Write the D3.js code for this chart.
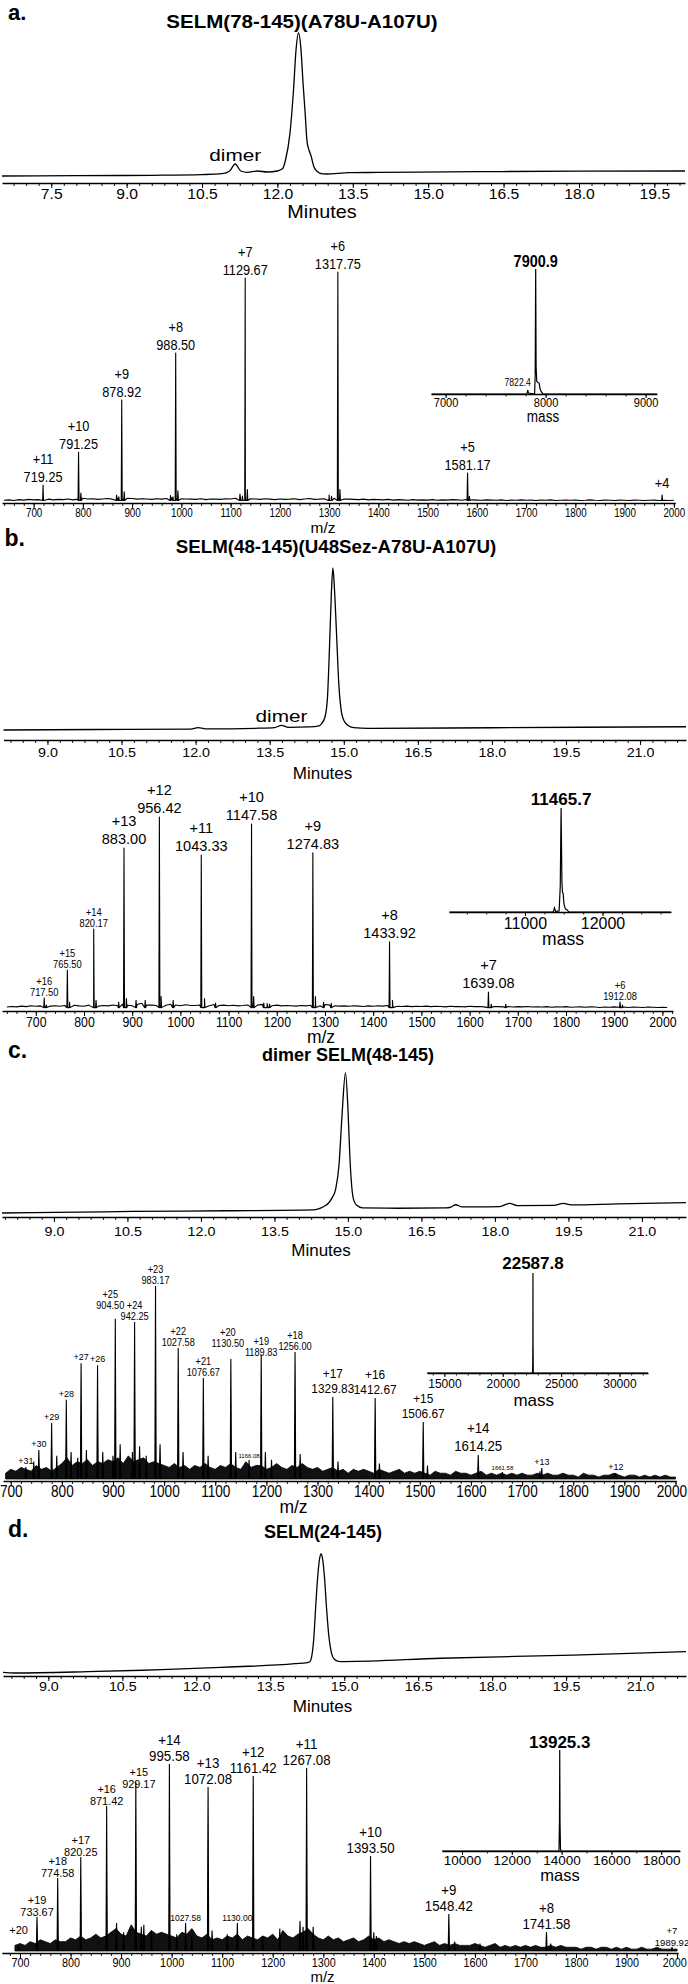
<!DOCTYPE html>
<html><head><meta charset="utf-8">
<script src="https://cdn.jsdelivr.net/npm/d3@7/dist/d3.min.js"></script>
<style>html,body{margin:0;padding:0;background:#fff}svg{display:block}</style>
</head><body>
<svg id="fig" width="688" height="1984" viewBox="0 0 688 1984"></svg>
<script>
// ======================= DATA =======================
const panelLetters = ["a.", "b.", "c.", "d."];
const titles = ["SELM(78-145)(A78U-A107U)", "SELM(48-145)(U48Sez-A78U-A107U)", "dimer SELM(48-145)", "SELM(24-145)"];

const chromTicksA = [7.5, 9.0, 10.5, 12.0, 13.5, 15.0, 16.5, 18.0, 19.5];
const chromTicksBCD = [9.0, 10.5, 12.0, 13.5, 15.0, 16.5, 18.0, 19.5, 21.0];
const msTicks = [700, 800, 900, 1000, 1100, 1200, 1300, 1400, 1500, 1600, 1700, 1800, 1900, 2000];

// chromatograms: time (min) and absorbance (% of main peak, above left baseline)
const chromA_time = [6.52, 8.0, 9.5, 10.5, 10.9, 11.05, 11.16, 11.27, 11.4, 11.6, 11.8, 12.0, 12.1, 12.16, 12.25, 12.32, 12.37, 12.42, 12.47, 12.51, 12.55, 12.59, 12.63, 12.67, 12.72, 12.78, 12.9, 13.0, 13.2, 13.4, 14.0, 16.0, 18.0, 20.11];
const chromA_abs  = [0, 0.2, 0.5, 1.0, 1.6, 3.5, 8.4, 3.5, 2.5, 3.5, 2.8, 3.5, 5, 11, 30, 60, 88, 100, 88, 65, 45, 24, 18, 14, 7, 3.5, 1.5, 1.4, 1.8, 2.3, 2.5, 3.0, 3.4, 3.5];
const chromB_time = [8.11, 10.0, 11.9, 12.05, 12.2, 13.3, 13.6, 13.74, 13.88, 14.3, 14.5, 14.55, 14.62, 14.67, 14.71, 14.75, 14.78, 14.81, 14.86, 14.9, 14.94, 15.0, 15.08, 15.2, 15.5, 18.0, 21.93];
const chromB_abs  = [0, 0.3, 0.6, 1.5, 0.7, 1.1, 1.5, 2.8, 1.6, 1.9, 2.6, 4, 8, 20, 50, 85, 100, 88, 55, 28, 14, 6, 3, 1.5, 1.0, 1.4, 2.0];
const chromC_time = [7.94, 9.5, 10.6, 12.5, 14.3, 14.4, 14.5, 14.6, 14.68, 14.75, 14.82, 14.88, 14.95, 15.0, 15.04, 15.08, 15.12, 15.18, 15.3, 16.0, 17.0, 17.1, 17.2, 17.32, 17.6, 18.1, 18.3, 18.45, 19.2, 19.4, 19.55, 20.5, 21.9];
const chromC_abs  = [0, 0.6, 1.1, 1.6, 2.2, 3, 4.5, 7, 11, 17, 35, 70, 100, 75, 40, 18, 9, 5.5, 3.6, 3.4, 3.6, 4.2, 5.9, 4.4, 4.4, 4.6, 6.9, 5.3, 5.5, 6.9, 5.8, 6.5, 7.4];
const chromD_time = [8.08, 8.3, 9.8, 12.5, 14.0, 14.25, 14.3, 14.34, 14.38, 14.42, 14.46, 14.5, 14.53, 14.56, 14.6, 14.64, 14.69, 14.74, 14.8, 14.88, 15.0, 16.96, 19.64, 21.93];
const chromD_abs  = [0.5, 0, 1.1, 4.8, 7.8, 8.8, 9.5, 14, 28, 55, 80, 96, 100, 96, 80, 55, 30, 17, 11.5, 9.8, 9.6, 12.4, 15.1, 17.9];

// ESI spectra: labelled peaks (m/z, relative intensity %, charge, label)
const msA_mz     = [719.25, 791.25, 878.92, 988.50, 1129.67, 1317.75, 1581.17, 1976.2];
const msA_int    = [7, 21.4, 44.1, 64.6, 97.4, 100, 12.2, 2.6];
const msA_charge = [11, 10, 9, 8, 7, 6, 5, 4];
const msA_text   = ["719.25", "791.25", "878.92", "988.50", "1129.67", "1317.75", "1581.17", ""];
const msA_minorMz  = [796, 868.5, 873, 884, 978, 983, 993, 1119, 1124, 1134, 1300, 1305, 1322, 1585];
const msA_minorInt = [3.5, 2.6, 1.8, 4.0, 2.4, 1.8, 4.5, 3.0, 2.2, 5.0, 2.6, 2.0, 5.0, 2.0];
const msA_noise = [0.3,0.5,0.2,0.6,0.4,0.7,0.5, 0.6,0.4,0.8,0.5,0.7,0.6,0.9,0.5,0.8,
  1.2,0.9,1.0,0.7,0.9,1.1,0.8,1.3,1.0,1.2, 1.1,0.8,1.0,0.9,0.7,1.0,0.8,1.1,1.4,1.2,
  1.0,0.9,0.8,0.7,1.0,0.6,0.9,0.8,0.7,1.0, 0.9,1.2,1.3,1.5,1.0,0.9,0.7,1.0,0.8,0.6,
  0.9,0.7,0.8,1.0,0.6,0.9,1.1,0.7,0.8,1.0, 1.4,1.2,1.0,0.9,0.8,0.7,0.6,0.8,0.5,0.7,
  0.6,0.5,0.7,0.4,0.6,0.5,0.3,0.6,0.4,0.5, 0.4,0.6,0.3,0.5,0.4,0.6,0.5,0.3,0.7,0.5,
  0.4,0.3,0.5,0.4,0.3,0.5,0.2,0.4,0.3,0.5, 0.3,0.4,0.2,0.4,0.3,0.5,0.2,0.3,0.4,0.3,
  0.4,0.2,0.3,0.5,0.3,0.2,0.4,0.3,0.2,0.4, 0.3,0.2,0.4,0.3,0.2,0.3,0.4,0.2,0.3,0.2,0.3];
const msA_noiseStart = 640, msA_noiseStep = 10;

const msB_mz     = [717.50, 765.50, 820.17, 883.00, 956.42, 1043.33, 1147.58, 1274.83, 1433.92, 1639.08, 1912.08];
const msB_int    = [5.2, 19.9, 41.4, 83.8, 100, 80.1, 96.3, 81.2, 34.6, 8.4, 3.1];
const msB_charge = [16, 15, 14, 13, 12, 11, 10, 9, 8, 7, 6];
const msB_text   = ["717.50", "765.50", "820.17", "883.00", "956.42", "1043.33", "1147.58", "1274.83", "1433.92", "1639.08", "1912.08"];
const msB_minorMz  = [722, 770, 825, 872, 888, 908, 927, 960, 985, 1050, 1073, 1152, 1173, 1180, 1185, 1280, 1297, 1313, 1440, 1645, 1675, 1917];
const msB_minorInt = [1.5, 3, 4, 3, 5, 4, 4, 6, 4, 5, 2.6, 6, 2.6, 2.5, 2.0, 6, 3, 2.5, 4, 2, 2, 1.5];
const msB_noise = [0.5,0.8,0.6,1.0,0.7,1.2,0.9,1.1,0.8,1.0, 1.2,0.9,1.3,1.0,1.4,1.1,0.9,1.5,1.2,1.0,
  1.3,1.1,1.6,1.2,2.0,1.4,1.2,1.8,2.5,1.6, 1.5,1.3,1.8,1.4,2.0,1.6,1.2,1.7,1.4,1.3,
  1.6,1.4,1.2,1.8,1.3,1.5,1.2,1.4,1.1,1.3, 1.6,1.8,1.5,1.9,1.4,1.2,1.5,1.1,1.3,1.2,
  1.0,1.3,1.1,1.4,1.6,1.2,1.8,1.5,1.2,1.0, 1.1,0.9,1.2,1.0,0.8,1.1,0.9,1.2,1.0,1.3,
  1.1,0.9,0.8,1.0,0.7,0.9,0.8,1.0,0.7,0.9, 0.8,0.6,0.9,0.7,0.8,0.6,0.9,0.7,0.8,0.6,
  1.0,0.8,0.7,0.6,0.8,0.5,0.7,0.6,0.8,0.5, 0.6,0.5,0.7,0.4,0.6,0.5,0.7,0.4,0.5,0.6,
  0.4,0.6,0.5,0.3,0.5,0.4,0.6,0.4,0.5,0.3, 0.5,0.4,0.3,0.5,0.4,0.3,0.4,0.3];
const msB_noiseStart = 640, msB_noiseStep = 10;

const msC_mz     = [729.6, 755.0, 780.0, 808.7, 837.6, 869.8, 904.50, 942.25, 983.17, 1027.58, 1076.67, 1130.50, 1166.08, 1189.83, 1256.00, 1329.83, 1412.67, 1506.67, 1614.25, 1661.58, 1738.5, 1883.3];
const msC_int    = [6.2, 15, 29, 41, 60, 59, 83, 81.3, 100, 67.9, 52.3, 62.2, 9.8, 64.2, 65.8, 42.5, 42, 29.5, 12.4, 3.6, 5.7, 3.1];
const msC_charge = [31, 30, 29, 28, 27, 26, 25, 24, 23, 22, 21, 20, 0, 19, 18, 17, 16, 15, 14, 0, 13, 12];
const msC_text   = ["", "", "", "", "", "", "904.50", "942.25", "983.17", "1027.58", "1076.67", "1130.50", "1166.08", "1189.83", "1256.00", "1329.83", "1412.67", "1506.67", "1614.25", "1661.58", "", ""];
const msC_minorMz  = [745, 790, 818, 831, 848, 880, 900, 914, 938, 952, 965, 992, 1037, 1086, 1140, 1198, 1210, 1266, 1340, 1421, 1515, 1735];
const msC_minorInt = [9, 12, 14, 11, 15, 14, 12, 18, 14, 17, 12, 18, 14, 12, 14, 14, 10, 13, 9, 8, 7, 4];
const msC_noise = [3,5,4,6,5,4,7,5,6,4, 6,8,11,7,9,8,10,7,9,8, 10,9,11,8,12,9,10,11,8,9,
  8,7,6,8,6,7,5,7,6,8, 6,5,7,6,8,6,5,9,6,7, 7,5,6,8,6,5,7,6,8,6, 5,6,4,5,6,4,5,3,5,4,
  5,4,3,5,4,3,4,5,3,4, 3,4,3,2,4,3,3,2,4,3, 3,2,3,4,2,3,2,3,2,3, 2,3,2,2,3,2,3,2,2,3,
  2,2,1,3,2,2,1,2,2,3, 2,1,2,2,1,2,1,2,1,2, 1,1];
const msC_noiseStart = 690, msC_noiseStep = 10;

const msD_mz     = [697.3, 733.67, 774.58, 820.25, 871.42, 929.17, 995.58, 1027.58, 1072.08, 1130.00, 1161.42, 1267.08, 1393.50, 1548.42, 1741.58, 1989.92];
const msD_int    = [3.2, 18.2, 39, 50.3, 77.5, 90.4, 100, 15, 87.7, 15, 93.6, 97.9, 50.8, 19.8, 10.2, 2.1];
const msD_charge = [20, 19, 18, 17, 16, 15, 14, 0, 13, 0, 12, 11, 10, 9, 8, 7];
const msD_text   = ["", "733.67", "774.58", "820.25", "871.42", "929.17", "995.58", "1027.58", "1072.08", "1130.00", "1161.42", "1267.08", "1393.50", "1548.42", "1741.58", "1989.92"];
const msD_minorMz  = [891, 905, 940, 945, 960, 1010, 1040, 1080, 1110, 1180, 1214, 1254, 1260, 1280, 1400, 1405, 1560, 1610, 1750];
const msD_minorInt = [15, 10, 13, 14, 11, 9, 8, 11, 9, 8, 12, 16, 13, 13, 10, 8, 5, 4, 4];
const msD_noise = [3,4,3,5,4,6,5,4,6,5, 5,7,6,8,6,7,9,7,8,10, 12,9,8,14,10,9,8,11,9,10,
  9,8,7,10,9,12,8,7,9,6, 7,6,8,7,9,6,8,7,6,8, 7,9,6,11,8,7,9,10,12,9, 7,6,8,6,7,5,6,7,5,6,
  8,6,7,5,6,5,4,5,4,5, 4,3,4,5,3,4,3,4,3,3, 3,4,3,2,3,4,2,3,2,3, 2,3,2,3,2,2,3,2,3,2,
  2,2,1,2,2,1,2,2,1,2, 1,2,1,1,2,1,1,2,1,1, 1,1];
const msD_noiseStart = 690, msD_noiseStep = 10;

// deconvoluted mass insets
const insetA_mass = [6860, 7810, 7817, 7822.4, 7828, 7890, 7896, 7900.9, 7905, 7912, 7925, 7935, 7945, 7958, 7975, 9110];
const insetA_int  = [0, 0, 1.5, 3.2, 0.8, 0, 15, 100, 22, 10, 9, 8.8, 4, 1.6, 0, 0];
const insetA_ticks = [7000, 8000, 9000];
const insetB_mass = [10025, 11365, 11380, 11395, 11440, 11455, 11465.7, 11476, 11483, 11492, 11502, 11520, 11545, 11565, 12880];
const insetB_int  = [0, 0, 4, 0.5, 1, 25, 100, 30, 19, 18, 8, 3, 2, 0, 0];
const insetB_ticks = [11000, 12000];
const insetC_mass = [13515, 22560, 22580, 22587.8, 22596, 22615, 32440];
const insetC_int  = [0, 0, 30, 100, 30, 0, 0];
const insetC_ticks = [15000, 20000, 25000, 30000];
const insetD_mass = [9200, 13895, 13915, 13925.3, 13936, 13955, 13975, 18750];
const insetD_int  = [0, 0, 30, 100, 30, 2, 0, 0];
const insetD_ticks = [10000, 12000, 14000, 16000, 18000];
const insetPeaks = [[7900.9, "7900.9"], [11465.7, "11465.7"], [22587.8, "22587.8"], [13925.3, "13925.3"]];
const insetA_minorLabel = [7822.4, "7822.4"];

// ======================= LAYOUT =======================
const FONT = '"Liberation Sans", Arial, Helvetica, sans-serif';
const LAYOUT = [
 { letter:{x:8, y:20, size:22}, title:{x:302, y:22, sx:1.14},
   chrom:{tDomain:[6.52,20.11], xRange:[2,685], zeroY:176, topY:33, axisY:183, labelY:194, size:14, sx:1.12,
          minutes:{x:322, y:212, size:18, sx:1.1}, dimer:{t:11.16, y:155}},
   ms:{mzDomain:[636,2003], xRange:[2.1,675.3], zeroY:501, topY:272, axisY:503, labelY:512.5, size:12, sx:0.82,
       mzl:{x:323, y:527, size:15.5, sx:1}, dense:false,
       cls:['A','A','A','A','A','A','A','A1'], nudge:{}},
   inset:{domain:[6854,9114], xRange:[431,657], zeroY:394, topY:269, labelY:403, size:13, sx:0.85, minor:200,
          mass:{x:543, y:416, size:16.5, sx:0.82}, peak:{size:17, sx:0.85, dy:-8}} },
 { letter:{x:4.5, y:546, size:23}, title:{x:336, y:547, sx:1.04},
   chrom:{tDomain:[8.11,21.93], xRange:[3.5,686], zeroY:730, topY:568, axisY:740, labelY:753, size:13, sx:1.1,
          minutes:{x:322.5, y:773, size:17, sx:1}, dimer:{t:13.74, y:716}},
   ms:{mzDomain:[630,2022], xRange:[2.05,673], zeroY:1008, topY:817, axisY:1011, labelY:1022, size:15, sx:0.82,
       mzl:{x:321, y:1037, size:17.5, sx:1}, dense:false,
       cls:['S','S','S','L','L','L','L','L','L','L','S'], nudge:{}},
   inset:{domain:[10019,12884], xRange:[449,671], zeroY:912, topY:808, labelY:923, size:16, sx:1, minor:250,
          mass:{x:563, y:939, size:17.5, sx:1}, peak:{size:17, sx:1, dy:-9}} },
 { letter:{x:8, y:1058, size:23}, title:{x:348, y:1055, sx:1.0},
   chrom:{tDomain:[7.94,21.9], xRange:[2,686], zeroY:1213, topY:1073, axisY:1217, labelY:1232, size:13, sx:1.1,
          minutes:{x:321, y:1250, size:17, sx:1}, dimer:null},
   ms:{mzDomain:[685,2001], xRange:[3.05,676], zeroY:1479, topY:1286, axisY:1481, labelY:1492, size:16, sx:0.85,
       mzl:{x:293.5, y:1507, size:17.5, sx:1}, dense:true,
       cls:['K','K','K','K','K','K','S','S','S','S','S','S','T','S','S','M','M','M','L','T','K','K'],
       nudge:{"904.5":[-5,-7], "1130.5":[-3,-10], "1189.83":[0,3]}},
   inset:{domain:[13509,32446], xRange:[427,648], zeroY:1373, topY:1273, labelY:1384, size:12, sx:1, minor:1000,
          mass:{x:533.7, y:1400, size:17, sx:1}, peak:{size:17, sx:1, dy:-10}} },
 { letter:{x:8, y:1537, size:23}, title:{x:323, y:1532, sx:1.0},
   chrom:{tDomain:[8.08,21.93], xRange:[3,686], zeroY:1673, topY:1554, axisY:1676, labelY:1687, size:13, sx:1.1,
          minutes:{x:322.5, y:1706, size:17, sx:1}, dimer:null},
   ms:{mzDomain:[664,2002], xRange:[1.8,678.1], zeroY:1951, topY:1764, axisY:1953, labelY:1962.5, size:13.5, sx:0.8,
       mzl:{x:322.5, y:1976, size:15, sx:1}, dense:true,
       cls:['K','S','S','S','S','S','L','T','L','T','L','L','L','L','L','X'],
       nudge:{"929.17":[3,7]}},
   inset:{domain:[9197,18755], xRange:[442,680], zeroY:1851, topY:1750, labelY:1860, size:13.5, sx:1, minor:1000,
          mass:{x:560, y:1875, size:16.5, sx:1}, peak:{size:17, sx:1, dy:-8}} }
];
// label styles: size, horizontal squeeze, offset of m/z line and of charge line from the peak top
const LABEL_STYLES = [
 { A:{size:15, sx:0.85, d1:-8, d2:-26}, A1:{size:15, sx:0.85, d1:-12} },
 { L:{size:15, sx:0.97, d1:-9, d2:-27}, S:{size:11, sx:0.85, d1:-6, d2:-17} },
 { K:{size:9, sx:1, d1:-6}, S:{size:10, sx:0.92, d1:-6, d2:-17}, T:{size:6, sx:1, d1:-4},
   M:{size:12.5, sx:0.95, d1:-8, d2:-23}, L:{size:14, sx:0.95, d1:-9, d2:-27} },
 { K:{size:11, sx:1, d1:-15}, S:{size:11.5, sx:0.95, d1:-5, d2:-17}, L:{size:14, sx:0.95, d1:-8, d2:-24},
   T:{size:8.5, sx:1, d1:-5}, X:{size:9.5, sx:1, d1:-5, d2:-17} }
];

// ======================= DRAWING =======================
const svg = d3.select('#fig');
svg.append('rect').attr('width',688).attr('height',1984).attr('fill','#fff');

function txt(g, x, y, s, o) {
  o = o || {};
  return g.append('text')
    .attr('transform', `translate(${x},${y}) scale(${o.sx || 1},1)`)
    .attr('text-anchor', o.anchor || 'middle')
    .attr('dominant-baseline', o.base || 'central')
    .attr('font-family', FONT)
    .attr('font-size', o.size || 12)
    .attr('font-weight', o.bold ? 'bold' : 'normal')
    .attr('fill', '#000')
    .text(s);
}

function styleAxis(g, size, sx, dy, sw) {
  g.attr('font-family', FONT).attr('font-size', size);
  g.select('.domain').attr('stroke', '#000').attr('stroke-width', sw || 1.3);
  g.selectAll('.tick line').attr('stroke', '#000').attr('stroke-width', 1);
  g.selectAll('.tick text').attr('y', null).attr('dy', null)
    .attr('dominant-baseline', 'central').attr('fill', '#000')
    .attr('transform', `translate(0,${dy}) scale(${sx},1)`)
    .each(function () {
      const r = this.getBoundingClientRect();
      if (r.right > 687) {
        d3.select(this).attr('transform', `translate(${687 - r.right},${dy}) scale(${sx},1)`);
      }
    });
}

function drawAxis(x, y0, majors, minors, majorLen, minorLen, fmt, size, sx, dy) {
  const gm = svg.append('g').attr('transform', `translate(0,${y0})`)
    .call(d3.axisBottom(x).tickValues(minors).tickSize(minorLen).tickSizeOuter(0).tickFormat(''));
  gm.select('.domain').remove();
  gm.selectAll('.tick line').attr('stroke', '#000').attr('stroke-width', 0.9);
  const g = svg.append('g').attr('transform', `translate(0,${y0})`)
    .call(d3.axisBottom(x).tickValues(majors).tickSize(majorLen).tickSizeOuter(0).tickFormat(fmt));
  styleAxis(g, size, sx, dy);
  return g;
}

function drawChrom(L, time, abs, ticks) {
  const x = d3.scaleLinear().domain(L.tDomain).range(L.xRange);
  const y = d3.scaleLinear().domain([0, 100]).range([L.zeroY, L.topY]);
  const line = d3.line().x((d, i) => x(time[i])).y((d, i) => y(abs[i])).curve(d3.curveMonotoneX);
  svg.append('path').datum(time).attr('d', line).attr('fill', 'none')
    .attr('stroke', '#000').attr('stroke-width', 1.3);
  const minors = d3.range(Math.ceil(L.tDomain[0] / 0.25) * 0.25, L.tDomain[1], 0.25);
  drawAxis(x, L.axisY, ticks, minors, 5, 3, d3.format('.1f'), L.size, L.sx, L.labelY - L.axisY);
  txt(svg, L.minutes.x, L.minutes.y, 'Minutes', {size: L.minutes.size, sx: L.minutes.sx});
  if (L.dimer) txt(svg, x(L.dimer.t), L.dimer.y, 'dimer', {size: 16, sx: 1.3});
}

function drawMS(L, ST, D) {
  const x = d3.scaleLinear().domain(L.mzDomain).range(L.xRange);
  const y = d3.scaleLinear().domain([0, 100]).range([L.zeroY, L.topY]);
  const noisePts = D.noise.map((v, i) => [D.noiseStart + i * D.noiseStep, v]);
  const peaks = D.mz.map((m, i) => [m, D.int[i]]).concat(D.minorMz.map((m, i) => [m, D.minorInt[i]]));
  const ln = d3.line().x(d => x(d[0])).y(d => y(d[1]));
  if (!L.dense) {
    const pts = noisePts.slice();
    peaks.forEach(p => { pts.push([p[0] - 1, 0.2], [p[0], p[1]], [p[0] + 1, 0.2]); });
    pts.sort((a, b) => a[0] - b[0]);
    svg.append('path').datum(pts).attr('d', ln).attr('fill', 'none')
      .attr('stroke', '#000').attr('stroke-width', 1.1).attr('stroke-linejoin', 'round');
  } else {
    const area = d3.area().x(d => x(d[0])).y0(y(0)).y1(d => y(d[1]));
    svg.append('path').datum(noisePts).attr('d', area).attr('fill', '#111')
      .attr('stroke', '#000').attr('stroke-width', 0.8).attr('stroke-linejoin', 'round');
    svg.append('g').selectAll('path').data(peaks).join('path')
      .attr('d', p => ln([[p[0] - 1.3, 0], [p[0], p[1]], [p[0] + 1.3, 0]]))
      .attr('fill', '#000').attr('stroke', '#000').attr('stroke-width', 1.1);
  }
  const minors = d3.range(Math.ceil(L.mzDomain[0] / 20) * 20, L.mzDomain[1], 20);
  drawAxis(x, L.axisY, msTicks, minors, 5, 3, d3.format('d'), L.size, L.sx, L.labelY - L.axisY);
  txt(svg, L.mzl.x, L.mzl.y, 'm/z', {size: L.mzl.size, sx: L.mzl.sx});
  // peak labels
  D.mz.forEach((m, i) => {
    const st = ST[L.cls[i]];
    const nd = L.nudge[String(m)] || [0, 0];
    const px = x(m) + nd[0], py = y(D.int[i]) + nd[1];
    const ch = D.charge[i] ? '+' + D.charge[i] : '';
    if (st.d2 !== undefined) {
      if (ch) txt(svg, px, py + st.d2, ch, {size: st.size, sx: st.sx});
      if (D.text[i]) txt(svg, px, py + st.d1, D.text[i], {size: st.size, sx: st.sx});
    } else {
      txt(svg, px, py + st.d1, D.text[i] || ch, {size: st.size, sx: st.sx});
    }
  });
}

function drawInset(L, mass, inten, ticks, peak, minorLabel) {
  const x = d3.scaleLinear().domain(L.domain).range(L.xRange);
  const y = d3.scaleLinear().domain([0, 100]).range([L.zeroY, L.topY]);
  const ln = d3.line().x((d, i) => x(mass[i])).y((d, i) => y(inten[i]));
  const minors = d3.range(Math.ceil(L.domain[0] / L.minor) * L.minor, L.domain[1], L.minor);
  drawAxis(x, L.zeroY, ticks, minors, 4, 2.5, d3.format('d'), L.size, L.sx, L.labelY - L.zeroY);
  svg.append('path').datum(mass).attr('d', ln).attr('fill', 'none')
    .attr('stroke', '#000').attr('stroke-width', 1.2);
  txt(svg, x(peak[0]), y(100) + L.peak.dy, peak[1], {size: L.peak.size, sx: L.peak.sx, bold: true});
  txt(svg, L.mass.x, L.mass.y, 'mass', {size: L.mass.size, sx: L.mass.sx});
  if (minorLabel) {
    const i = mass.indexOf(minorLabel[0]);
    txt(svg, x(minorLabel[0]) + 3, y(inten[i]) - 8, minorLabel[1], {size: 10.5, sx: 0.82, anchor: 'end'});
  }
}

const chroms = [[chromA_time, chromA_abs, chromTicksA], [chromB_time, chromB_abs, chromTicksBCD],
                [chromC_time, chromC_abs, chromTicksBCD], [chromD_time, chromD_abs, chromTicksBCD]];
const specs = [
  {mz: msA_mz, int: msA_int, charge: msA_charge, text: msA_text, minorMz: msA_minorMz, minorInt: msA_minorInt, noise: msA_noise, noiseStart: msA_noiseStart, noiseStep: msA_noiseStep},
  {mz: msB_mz, int: msB_int, charge: msB_charge, text: msB_text, minorMz: msB_minorMz, minorInt: msB_minorInt, noise: msB_noise, noiseStart: msB_noiseStart, noiseStep: msB_noiseStep},
  {mz: msC_mz, int: msC_int, charge: msC_charge, text: msC_text, minorMz: msC_minorMz, minorInt: msC_minorInt, noise: msC_noise, noiseStart: msC_noiseStart, noiseStep: msC_noiseStep},
  {mz: msD_mz, int: msD_int, charge: msD_charge, text: msD_text, minorMz: msD_minorMz, minorInt: msD_minorInt, noise: msD_noise, noiseStart: msD_noiseStart, noiseStep: msD_noiseStep}
];
const insets = [[insetA_mass, insetA_int, insetA_ticks], [insetB_mass, insetB_int, insetB_ticks],
                [insetC_mass, insetC_int, insetC_ticks], [insetD_mass, insetD_int, insetD_ticks]];

LAYOUT.forEach((L, k) => {
  txt(svg, L.letter.x, L.letter.y, panelLetters[k], {size: L.letter.size, bold: true, anchor: 'start', base: 'alphabetic'});
  txt(svg, L.title.x, L.title.y, titles[k], {size: 18, bold: true, sx: L.title.sx});
  drawChrom(L.chrom, chroms[k][0], chroms[k][1], chroms[k][2]);
  drawMS(L.ms, LABEL_STYLES[k], specs[k]);
  drawInset(L.inset, insets[k][0], insets[k][1], insets[k][2], insetPeaks[k], k === 0 ? insetA_minorLabel : null);
});
</script>
</body></html>
